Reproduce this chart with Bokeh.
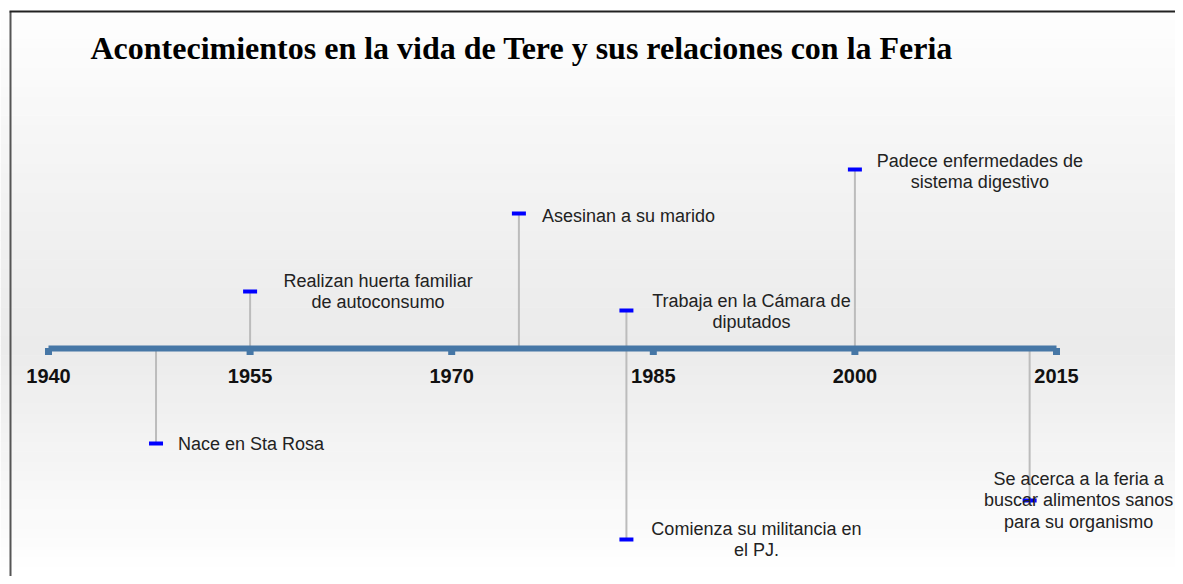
from bokeh.plotting import figure
from bokeh.models import Range1d, ColumnDataSource
from bokeh.embed import file_html
from bokeh.resources import INLINE
from bokeh.core.properties import value

# ---------------- data ----------------
title_text = "Acontecimientos en la vida de Tere y sus relaciones con la Feria"
tick_years = [1940, 1955, 1970, 1985, 2000, 2015]
event_years = [1948, 1955, 1975, 1983, 1983, 2000, 2013]
event_levels = [-95, 57, 135, 38, -191, 179, -152]
event_labels = [
    "Nace en Sta Rosa",
    "Realizan huerta familiar\nde autoconsumo",
    "Asesinan a su  marido",
    "Trabaja en la Cámara de\ndiputados",
    "Comienza su militancia en\nel PJ.",
    "Padece enfermedades de\nsistema digestivo",
    "Se acerca a la feria a\nbuscar alimentos sanos\npara su organismo",
]
# label layout (pixel offsets from the marker, alignment)
label_dx = [22, 128, 23, 125, 130, 125, 49]
label_dy = [0, 0, 2, 1, 0, 2, 0]
label_align = ["left", "center", "left", "center", "center", "center", "center"]

# ---------------- layout ----------------
W, H = 1175, 576
px_per_year = 13.44
x0 = tick_years[0] - 48 / px_per_year
x1 = x0 + W / px_per_year
y1 = 348
y0 = y1 - H

p = figure(width=W, height=H, output_backend="svg", toolbar_location=None,
           x_range=Range1d(x0, x1), y_range=Range1d(y0, y1),
           min_border=0, min_border_left=0, min_border_right=0,
           min_border_top=0, min_border_bottom=0)
p.axis.visible = False
p.grid.visible = False
p.outline_line_color = None
p.background_fill_color = "#ffffff"
p.border_fill_color = "#ffffff"

# background vertical gradient (white -> light gray at axis -> white)
def mix(c1, c2, t):
    return "#%02x%02x%02x" % tuple(int(round(a + (b - a) * t)) for a, b in zip(c1, c2))

top_c, mid_c, bot_c = (255, 255, 255), (235, 235, 235), (255, 255, 255)
nb = 60
bt, bb, bc = [], [], []
for i in range(nb):
    ya = y0 + (y1 - y0) * i / nb
    yb = y0 + (y1 - y0) * (i + 1) / nb
    ym = (ya + yb) / 2
    if ym >= 0:
        c = mix(mid_c, top_c, (ym / y1) ** 1.2)
    else:
        c = mix(mid_c, bot_c, (ym / y0) ** 1.0)
    bt.append(yb + 0.5)
    bb.append(ya)
    bc.append(c)
p.quad(left=x0, right=x1, top=bt, bottom=bb, fill_color=bc, line_color=None)

# frame lines (left and top), starting at the corner
fx = x0 + 10 / px_per_year
fy = y1 - 11
p.segment(x0=[fx], y0=[fy], x1=[fx], y1=[y0], line_color="#555555", line_width=2)
p.segment(x0=[fx - 1 / px_per_year], y0=[fy], x1=[x1], y1=[fy],
          line_color="#222222", line_width=2)

# title
p.text(x=[x0 + 90 / px_per_year], y=[y1 - 47], text=[title_text],
       text_font=value("Liberation Serif"), text_font_style="bold",
       text_font_size="32px", text_color="#000000",
       text_align="left", text_baseline="middle")

# stems
src = ColumnDataSource(dict(x=event_years, y=event_levels, label=event_labels,
                            dx=label_dx, dy=label_dy, align=label_align))
p.segment(x0="x", y0=0, x1="x", y1="y", source=src, line_color="#bcbcbc", line_width=2)

# main axis line with tick blocks
axis_c = "#4677a6"
p.segment(x0=[tick_years[0]], y0=[0], x1=[tick_years[-1]], y1=[0],
          line_color=axis_c, line_width=6)
p.rect(x=tick_years, y=-3, width=7, height=7, width_units="screen",
       height_units="screen", fill_color=axis_c, line_color=None)

# tick labels
p.text(x=tick_years, y=0, text=[str(t) for t in tick_years], y_offset=27,
       text_font=value("Liberation Sans"), text_font_style="bold",
       text_font_size="20px", text_color="#111111",
       text_align="center", text_baseline="middle")

# markers
p.rect(x="x", y="y", width=14, height=4, width_units="screen", height_units="screen",
       source=src, fill_color="#0000ff", line_color=None)

# event labels
p.text(x="x", y="y", text="label", x_offset="dx", y_offset="dy", source=src,
       text_align="align", text_baseline="middle",
       text_font=value("Liberation Sans"), text_font_size="18px",
       text_color="#222222", text_line_height=1.07)

open("out.html", "w").write(file_html(p, INLINE))
